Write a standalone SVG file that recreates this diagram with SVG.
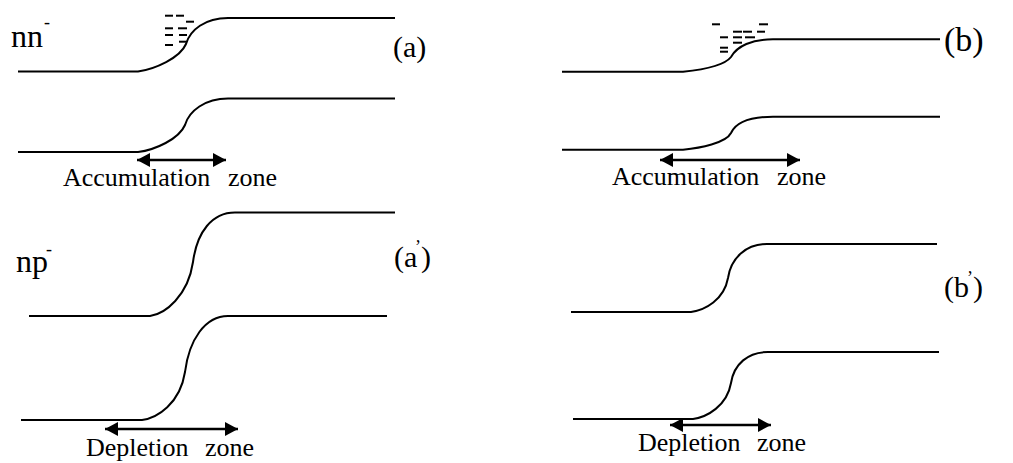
<svg xmlns="http://www.w3.org/2000/svg" width="1013" height="463" viewBox="0 0 1013 463">
<style>
.band{fill:none;stroke:#000;stroke-width:2}
.q{stroke:#000;stroke-width:2}
.arr{stroke:#000;stroke-width:2.5;fill:none}
.lbl{font-size:26px}
.big{font-size:32px}
.tag{font-size:30px}
.sup{font-size:18px}
</style>
<defs>
<marker id="ah" markerUnits="userSpaceOnUse" markerWidth="14" markerHeight="16" refX="13" refY="7" orient="auto-start-reverse">
<path d="M0,0 L13,7 L0,14 Z" fill="#000"/>
</marker>
</defs>
<rect width="1013" height="463" fill="#fff"/>

<g font-family="'Liberation Serif', 'Times New Roman', serif" fill="#000">
<g id="panel-a">
<path class="band" d="M18,71.5 H138 C155,69 180,58 186,44 C190,30 205,18 228,18 H395"/>
<path class="band" d="M18,152 H138 C155,150 179,139 185,125 C189,111 205,98.5 228,98.5 H395"/>
<g id="charges-a">
<line class="q" x1="165" y1="15.7" x2="173" y2="15.7"/>
<line class="q" x1="176" y1="15.7" x2="184" y2="15.7"/>
<line class="q" x1="186" y1="21.7" x2="194" y2="21.7"/>
<line class="q" x1="165" y1="28.3" x2="173" y2="28.3"/>
<line class="q" x1="178" y1="28.3" x2="187" y2="28.3"/>
<line class="q" x1="165" y1="35" x2="173" y2="35"/>
<line class="q" x1="179" y1="35" x2="187" y2="35"/>
<line class="q" x1="179" y1="41.7" x2="187" y2="41.7"/>
<line class="q" x1="165" y1="45" x2="173" y2="45"/>
</g>
<text class="big" x="11" y="47">nn<tspan class="sup" x="44" y="28">-</tspan></text>
<text class="tag" x="393" y="57">(a)</text>
<text class="lbl" x="63" y="186">Accumulation<tspan x="228">zone</tspan></text>
</g>

<g id="panel-b">
<path class="band" d="M562,71.7 H683 C700,70 724,66 731,57 C737,46 752,39.3 773,39.3 H940"/>
<path class="band" d="M562,149.7 H683 C700,148 726,143 731,133 C736,122 752,116.7 773,116.7 H940"/>
<g id="charges-b">
<line class="q" x1="712" y1="24.3" x2="720" y2="24.3"/>
<line class="q" x1="759" y1="24.3" x2="768" y2="24.3"/>
<line class="q" x1="733" y1="31.7" x2="742" y2="31.7"/>
<line class="q" x1="743" y1="31.7" x2="752" y2="31.7"/>
<line class="q" x1="757" y1="31.7" x2="765" y2="31.7"/>
<line class="q" x1="720" y1="37.3" x2="728" y2="37.3"/>
<line class="q" x1="733" y1="37.3" x2="742" y2="37.3"/>
<line class="q" x1="745" y1="37.3" x2="755" y2="37.3"/>
<line class="q" x1="733" y1="42.7" x2="742" y2="42.7"/>
<line class="q" x1="720" y1="47.7" x2="728" y2="47.7"/>
<line class="q" x1="720" y1="51.7" x2="728" y2="51.7"/>
</g>
<text x="944" y="51" font-size="34">(b)</text>
<text class="lbl" x="612" y="185">Accumulation<tspan x="777">zone</tspan></text>
</g>

<g id="panel-a2">
<path class="band" d="M29,316 H150 C165,314 188,296 193,262 C197,232 212,212.5 235,212.5 H395"/>
<path class="band" d="M21,420 H142 C157,418 180,404 185,372 C189,340 205,316 228,316 H387"/>
<text class="big" x="16" y="272">np<tspan class="sup" x="46" y="255">-</tspan></text>
<text class="tag" x="394" y="267">(a<tspan class="sup" x="415" y="253">’</tspan><tspan x="421" y="267">)</tspan></text>
<text class="lbl" x="86" y="456">Depletion<tspan x="205">zone</tspan></text>
</g>

<g id="panel-b2">
<path class="band" d="M571,312 H691 C705,310 724,300 728,278 C731,258 746,244 767,244 H937"/>
<path class="band" d="M573,419 H693 C707,417 727,406 731,383 C734,364 748,352 768,352 H939"/>
<text class="tag" x="944" y="297">(b<tspan class="sup" x="967" y="284">’</tspan><tspan x="973" y="297">)</tspan></text>
<text class="lbl" x="638" y="451">Depletion<tspan x="757">zone</tspan></text>
</g>
</g>

<g id="connectors">
<line class="arr" x1="137" y1="160" x2="226" y2="160" marker-start="url(#ah)" marker-end="url(#ah)"/>
<line class="arr" x1="660" y1="160" x2="800" y2="160" marker-start="url(#ah)" marker-end="url(#ah)"/>
<line class="arr" x1="105" y1="429" x2="238" y2="429" marker-start="url(#ah)" marker-end="url(#ah)"/>
<line class="arr" x1="670" y1="425" x2="771" y2="425" marker-start="url(#ah)" marker-end="url(#ah)"/>
</g>
</svg>
